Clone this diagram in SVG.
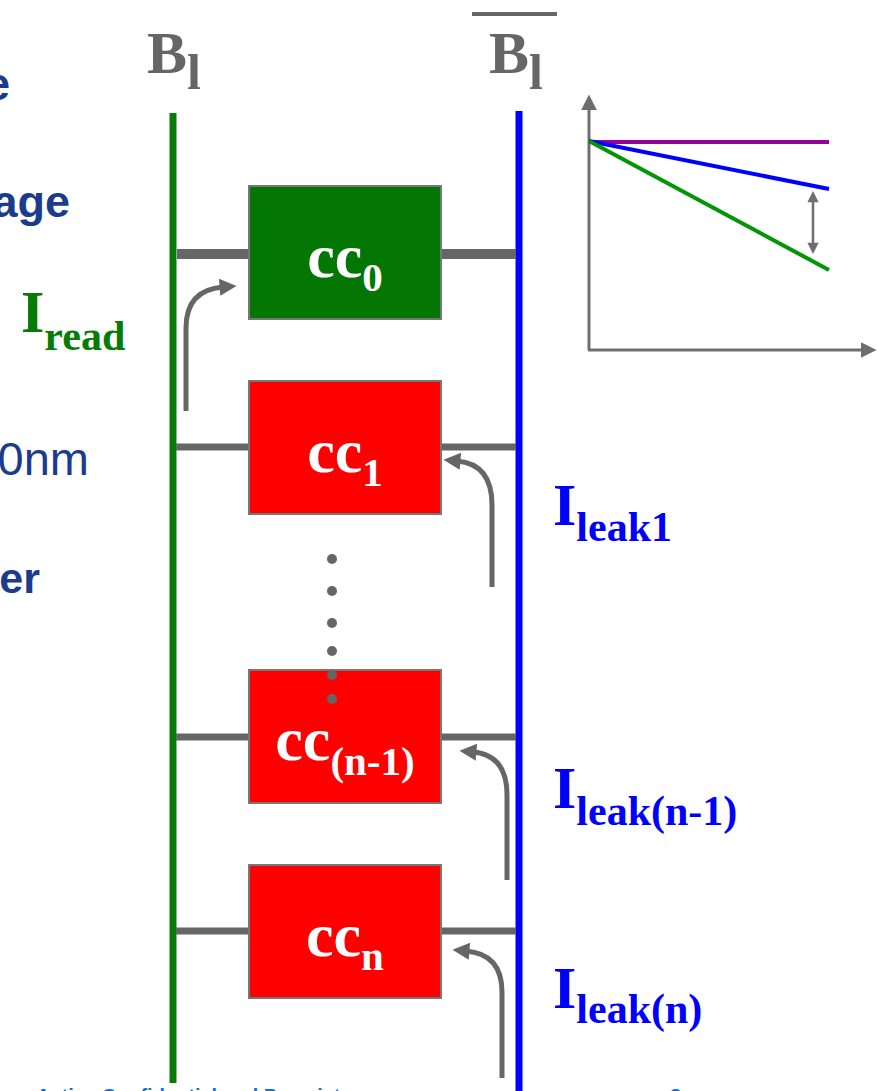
<svg xmlns="http://www.w3.org/2000/svg" width="878" height="1091" viewBox="0 0 878 1091">
<style>
.serif{font-family:"Liberation Serif","Times New Roman",serif;font-weight:bold}
.sans{font-family:"Liberation Sans",Arial,sans-serif}
.navy{fill:#1b3c8c}
.cell{stroke:#777;stroke-width:2}
.wire{stroke:#666;fill:none}
.cur{stroke:#666;stroke-width:5;fill:none}
.lbl{fill:#fff;font-size:62px}
.sub{font-size:41px}
.ax{stroke:#6e6e6e;stroke-width:3;fill:none}
</style>
<defs>
<marker id="ah" viewBox="0 0 10 10" refX="2" refY="5" markerWidth="3.6" markerHeight="3.4" orient="auto" markerUnits="strokeWidth">
<path d="M0,0 L10,5 L0,10 z" fill="#666"/>
</marker>
<marker id="axh" viewBox="0 0 10 10" refX="0" refY="5" markerWidth="5.2" markerHeight="5.4" orient="auto" markerUnits="strokeWidth">
<path d="M0,0 L10,5 L0,10 z" fill="#6e6e6e"/>
</marker>
<marker id="dh" viewBox="0 0 10 10" refX="2" refY="5" markerWidth="5" markerHeight="4.5" orient="auto-start-reverse" markerUnits="strokeWidth">
<path d="M0,0 L10,5 L0,10 z" fill="#6e6e6e"/>
</marker>
</defs>
<rect width="878" height="1091" fill="#fff"/>

<!-- left fragment texts -->
<g id="left-text" class="sans navy">
<text x="10" y="100" font-size="46" font-weight="bold" text-anchor="end">e</text>
<text x="70" y="217" font-size="45" font-weight="bold" text-anchor="end">age</text>
<text x="89" y="475" font-size="47" text-anchor="end">0nm</text>
<text x="40" y="593" font-size="43" font-weight="bold" text-anchor="end">er</text>
</g>

<!-- bitlines -->
<g id="bitline-bl">
<line x1="173" y1="113" x2="173" y2="1083" stroke="#067c06" stroke-width="7"/>
<text class="serif" x="147" y="73" font-size="60" fill="#666">B<tspan font-size="50" dy="16">l</tspan></text>
</g>
<g id="bitline-blbar">
<line x1="519" y1="111" x2="519" y2="1091" stroke="#0000ff" stroke-width="7"/>
<line x1="472" y1="14" x2="557" y2="14" stroke="#666" stroke-width="4"/>
<text class="serif" x="489" y="73" font-size="60" fill="#666">B<tspan font-size="50" dy="16">l</tspan></text>
</g>

<!-- connectors -->
<g id="connectors">
<line class="wire" x1="177" y1="254" x2="249" y2="254" stroke-width="10"/>
<line class="wire" x1="441" y1="254" x2="516" y2="254" stroke-width="10"/>
<line class="wire" x1="176" y1="447" x2="249" y2="447" stroke-width="7"/>
<line class="wire" x1="441" y1="447" x2="516" y2="447" stroke-width="7"/>
<line class="wire" x1="176" y1="737" x2="249" y2="737" stroke-width="7"/>
<line class="wire" x1="441" y1="737" x2="516" y2="737" stroke-width="7"/>
<line class="wire" x1="176" y1="931" x2="249" y2="931" stroke-width="7"/>
<line class="wire" x1="441" y1="931" x2="516" y2="931" stroke-width="7"/>
<path class="cur" d="M186,411 L186,328 Q186,290 223,287" marker-end="url(#ah)"/>
<path class="cur" d="M492,587 L492,505 Q492,464 457,461" marker-end="url(#ah)"/>
<path class="cur" d="M507,880 L507,795 Q507,755 473,752" marker-end="url(#ah)"/>
<path class="cur" d="M502,1078 L502,992 Q502,954 466,951" marker-end="url(#ah)"/>
</g>

<!-- cells -->
<g id="cc0">
<rect class="cell" x="249" y="186" width="192" height="133" fill="#037603"/>
<text class="serif lbl" x="345" y="277" text-anchor="middle">cc<tspan class="sub" dy="14">0</tspan></text>
</g>
<g id="cc1">
<rect class="cell" x="249" y="381" width="192" height="133" fill="#ff0000"/>
<text class="serif lbl" x="345" y="472" text-anchor="middle">cc<tspan class="sub" dy="14">1</tspan></text>
</g>
<g id="ccn-1">
<rect class="cell" x="249" y="670" width="192" height="133" fill="#ff0000"/>
<text class="serif lbl" x="345" y="760" text-anchor="middle">cc<tspan class="sub" dy="15">(n-1)</tspan></text>
</g>
<g id="ccn">
<rect class="cell" x="249" y="865" width="192" height="133" fill="#ff0000"/>
<text class="serif lbl" x="345" y="956" text-anchor="middle">cc<tspan class="sub" dy="14">n</tspan></text>
</g>

<!-- ellipsis dots -->
<g id="dots" fill="#666">
<circle cx="332" cy="559" r="5"/>
<circle cx="332" cy="591" r="5"/>
<circle cx="332" cy="623" r="5"/>
<circle cx="332" cy="651" r="5"/>
<circle cx="332" cy="675" r="5"/>
<circle cx="332" cy="699" r="5"/>
</g>

<!-- current labels -->
<g id="label-iread">
<text class="serif" x="21" y="332" font-size="60" fill="#067c06">I<tspan font-size="42" dy="18">read</tspan></text>
</g>
<g id="label-ileak1">
<text class="serif" x="553" y="525" font-size="60" fill="#0000ff">I<tspan font-size="42" dy="16">leak1</tspan></text>
</g>
<g id="label-ileakn-1">
<text class="serif" x="553" y="808" font-size="60" fill="#0000ff">I<tspan font-size="42" dy="17">leak(n-1)</tspan></text>
</g>
<g id="label-ileakn">
<text class="serif" x="553" y="1008" font-size="60" fill="#0000ff">I<tspan font-size="42" dy="15">leak(n)</tspan></text>
</g>

<!-- graph -->
<g id="graph">
<line class="ax" x1="589" y1="350" x2="589" y2="110" marker-end="url(#axh)"/>
<line class="ax" x1="588" y1="350" x2="861" y2="350" marker-end="url(#axh)"/>
<line x1="589" y1="142" x2="829" y2="142" stroke="#990099" stroke-width="4"/>
<line x1="589" y1="141" x2="829" y2="189" stroke="#0000ff" stroke-width="4"/>
<line x1="589" y1="141" x2="829" y2="270" stroke="#039603" stroke-width="4"/>
<line x1="813" y1="200" x2="813" y2="245" stroke="#6e6e6e" stroke-width="2.5" marker-start="url(#dh)" marker-end="url(#dh)"/>
</g>

<!-- footer (cut off at the bottom edge) -->
<g id="footer" class="sans" fill="#1a6fd0" font-weight="bold">
<text x="36" y="1103" font-size="20">Actica Confidential and Proprietary</text>
<text x="670" y="1103" font-size="20">8</text>
</g>
</svg>
